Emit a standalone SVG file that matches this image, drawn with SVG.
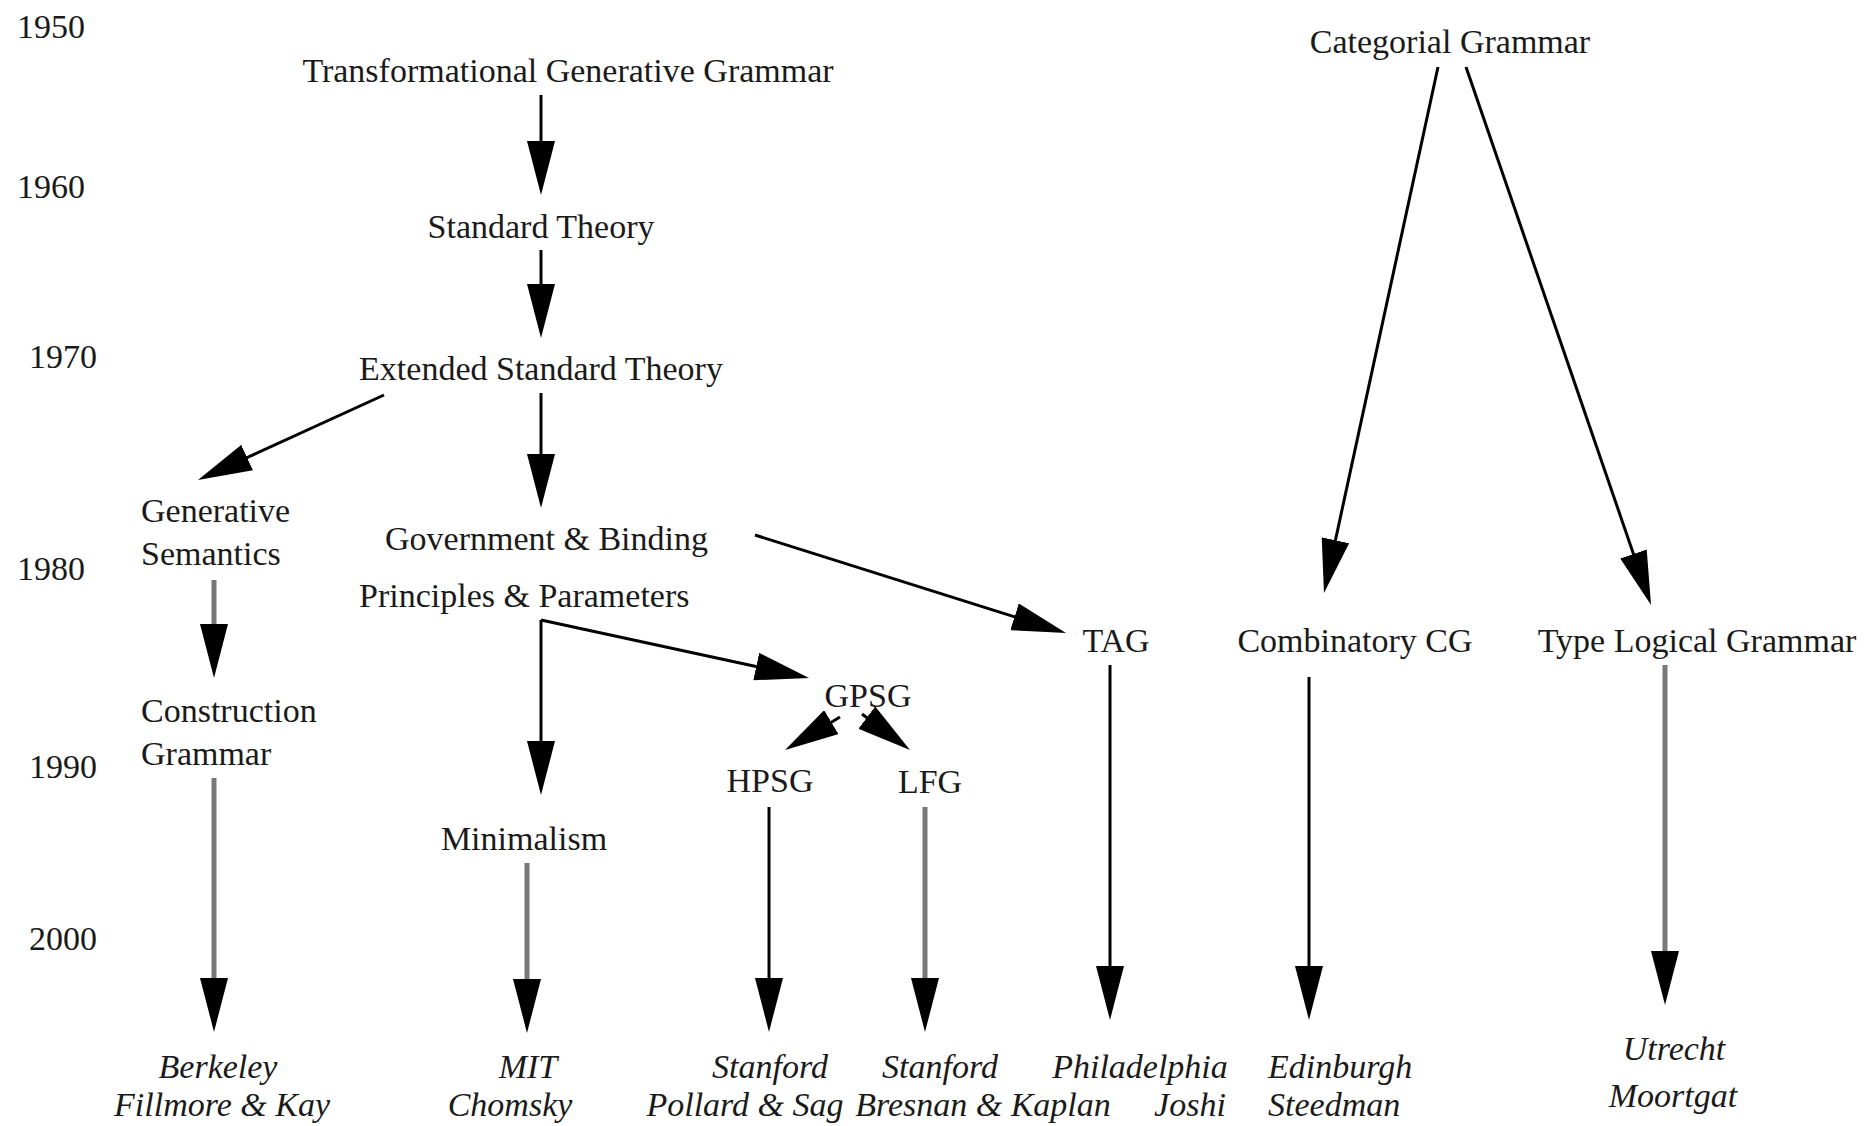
<svg xmlns="http://www.w3.org/2000/svg" width="1864" height="1126" viewBox="0 0 1864 1126">
<style>
text{font-family:"Liberation Serif","Times New Roman",serif;font-size:34px;fill:#1a1a1a}
.m{text-anchor:middle}
.it{font-style:italic}
.b{stroke:#000;stroke-width:3;fill:none}
.g{stroke:#787878;stroke-width:5;fill:none}
</style>
<defs>
<marker id="head" markerUnits="userSpaceOnUse" viewBox="0 0 54 28" markerWidth="54" markerHeight="28" refX="1" refY="14" orient="auto">
<path d="M0,0 L54,14 L0,28 Z" fill="#000"/>
</marker>
</defs>
<rect width="1864" height="1126" fill="#fff"/>
<g id="years">
<text x="17" y="38">1950</text>
<text x="17" y="198">1960</text>
<text x="29" y="368">1970</text>
<text x="17" y="580">1980</text>
<text x="29" y="778">1990</text>
<text x="29" y="950">2000</text>
</g>
<g id="connectors">
<line class="b" x1="541" y1="95" x2="541" y2="142" marker-end="url(#head)"/>
<line class="b" x1="541" y1="250" x2="541" y2="285" marker-end="url(#head)"/>
<line class="b" x1="541" y1="393" x2="541" y2="455" marker-end="url(#head)"/>
<line class="b" x1="384" y1="395" x2="246.2" y2="458" marker-end="url(#head)"/>
<line class="g" x1="214" y1="580" x2="214" y2="625" marker-end="url(#head)"/>
<line class="b" x1="541" y1="620" x2="541" y2="742" marker-end="url(#head)"/>
<line class="b" x1="541" y1="620" x2="757.2" y2="666.8" marker-end="url(#head)"/>
<line class="b" x1="755" y1="535" x2="1015.5" y2="617.1" marker-end="url(#head)"/>
<line class="b" x1="840" y1="717" x2="830.5" y2="722.7" marker-end="url(#head)"/>
<line class="b" x1="862" y1="714" x2="867.6" y2="718.2" marker-end="url(#head)"/>
<line class="b" x1="1438" y1="67" x2="1335.2" y2="541.2" marker-end="url(#head)"/>
<line class="b" x1="1466" y1="67" x2="1633.8" y2="554.9" marker-end="url(#head)"/>
<line class="g" x1="214" y1="778" x2="214" y2="979" marker-end="url(#head)"/>
<line class="g" x1="527" y1="863" x2="527" y2="980" marker-end="url(#head)"/>
<line class="b" x1="769" y1="807" x2="769" y2="979" marker-end="url(#head)"/>
<line class="g" x1="925" y1="807" x2="925" y2="979" marker-end="url(#head)"/>
<line class="b" x1="1110" y1="665" x2="1110" y2="967" marker-end="url(#head)"/>
<line class="b" x1="1309" y1="677" x2="1309" y2="967" marker-end="url(#head)"/>
<line class="g" x1="1665" y1="665" x2="1665" y2="952" marker-end="url(#head)"/>
</g>
<g id="tgg"><text class="m" x="568" y="82">Transformational Generative Grammar</text></g>
<g id="st"><text class="m" x="541" y="238">Standard Theory</text></g>
<g id="est"><text class="m" x="541" y="380">Extended Standard Theory</text></g>
<g id="gensem"><text x="141" y="522">Generative</text><text x="141" y="565">Semantics</text></g>
<g id="gb"><text x="385" y="550">Government &amp; Binding</text></g>
<g id="pp"><text x="359" y="607">Principles &amp; Parameters</text></g>
<g id="cxg"><text x="141" y="722">Construction</text><text x="141" y="765">Grammar</text></g>
<g id="gpsg"><text class="m" x="868" y="707">GPSG</text></g>
<g id="hpsg"><text class="m" x="770" y="792">HPSG</text></g>
<g id="lfg"><text class="m" x="930" y="793">LFG</text></g>
<g id="min"><text class="m" x="524" y="850">Minimalism</text></g>
<g id="tag"><text class="m" x="1116" y="652">TAG</text></g>
<g id="cg"><text class="m" x="1450" y="53">Categorial Grammar</text></g>
<g id="ccg"><text class="m" x="1355" y="652">Combinatory CG</text></g>
<g id="tlg"><text class="m" x="1697" y="652">Type Logical Grammar</text></g>
<g id="berkeley"><text class="m it" x="218" y="1078">Berkeley</text><text class="m it" x="222" y="1116">Fillmore &amp; Kay</text></g>
<g id="mit"><text class="m it" x="528" y="1078">MIT</text><text class="m it" x="510" y="1116">Chomsky</text></g>
<g id="stanford1"><text class="m it" x="770" y="1078">Stanford</text><text class="m it" x="745" y="1116">Pollard &amp; Sag</text></g>
<g id="stanford2"><text class="m it" x="940" y="1078">Stanford</text><text class="m it" x="983" y="1116">Bresnan &amp; Kaplan</text></g>
<g id="phil"><text class="m it" x="1140" y="1078">Philadelphia</text><text class="m it" x="1190" y="1116">Joshi</text></g>
<g id="edi"><text class="it" x="1268" y="1078">Edinburgh</text><text class="it" x="1268" y="1116">Steedman</text></g>
<g id="utr"><text class="m it" x="1674" y="1060">Utrecht</text><text class="m it" x="1673" y="1107">Moortgat</text></g>
</svg>
